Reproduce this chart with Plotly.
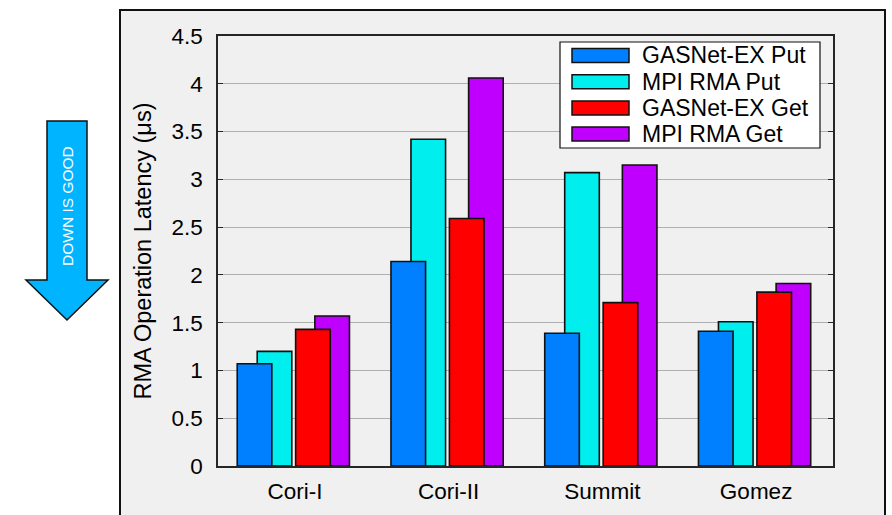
import plotly.graph_objects as go

# ---- data ----
systems = ["Cori-I", "Cori-II", "Summit", "Gomez"]
series_names = ["GASNet-EX Put", "MPI RMA Put", "GASNet-EX Get", "MPI RMA Get"]
gasnet_put = [1.07, 2.14, 1.39, 1.41]
mpi_put = [1.20, 3.42, 3.07, 1.51]
gasnet_get = [1.43, 2.59, 1.71, 1.82]
mpi_get = [1.57, 4.06, 3.15, 1.91]
y_ticks = [0, 0.5, 1, 1.5, 2, 2.5, 3, 3.5, 4, 4.5]

# ---- styling ----
colors = ["#0080ff", "#00eeee", "#ff0000", "#bf00ff"]
offsets = [-0.375, -0.245, 0.005, 0.13]
bar_w = 0.225
FONT = "Liberation Sans, Arial, Helvetica, sans-serif"
BG = "#f0f0f0"

W, H = 892, 515
L, R, T, B = 218, 833, 36, 466  # plot area in pixels


def px(x):
    return (x - L) / (R - L)


def py(y):
    return (B - y) / (B - T)


values = [gasnet_put, mpi_put, gasnet_get, mpi_get]
fig = go.Figure()
# draw order: partially hidden bars first
for i in [1, 0, 3, 2]:
    fig.add_trace(go.Bar(
        x=systems, y=values[i], name=series_names[i],
        offset=offsets[i], width=bar_w,
        marker=dict(color=colors[i], line=dict(color="#111111", width=1.6)),
        showlegend=False,
    ))

shapes = []
# outer figure box
shapes.append(dict(type="rect", xref="paper", yref="paper", layer="below",
                   x0=px(120), x1=px(885), y0=py(530), y1=py(10),
                   fillcolor=BG, line=dict(color="#111111", width=2)))
# arrow
pts = [(47, 121), (87, 121), (87, 280), (108, 280), (67, 320), (26, 280), (47, 280)]
path = "M " + " L ".join(f"{px(a):.5f},{py(b):.5f}" for a, b in pts) + " Z"
shapes.append(dict(type="path", xref="paper", yref="paper", path=path,
                   fillcolor="#00b4ff", line=dict(color="#111111", width=1.5)))
# legend box
shapes.append(dict(type="rect", xref="paper", yref="paper",
                   x0=px(560), x1=px(820), y0=py(148), y1=py(42),
                   fillcolor="white", line=dict(color="#111111", width=1.2)))
annotations = []
legend_order = [0, 1, 2, 3]
for k, i in enumerate(legend_order):
    cy = 55.5 + k * 26.2
    shapes.append(dict(type="rect", xref="paper", yref="paper",
                       x0=px(572), x1=px(629), y0=py(cy + 7), y1=py(cy - 7),
                       fillcolor=colors[i], line=dict(color="#111111", width=1.5)))
    annotations.append(dict(xref="paper", yref="paper", x=px(640), y=py(cy),
                            text=series_names[i], showarrow=False,
                            xanchor="left", yanchor="middle",
                            font=dict(family=FONT, size=23, color="black")))
annotations.append(dict(xref="paper", yref="paper", x=px(67), y=py(206),
                        text="DOWN IS GOOD", showarrow=False, textangle=-90,
                        xanchor="center", yanchor="middle",
                        font=dict(family=FONT, size=15.5, color="white")))

fig.update_layout(
    width=W, height=H,
    margin=dict(l=L, r=W - R, t=T, b=H - B, pad=0, autoexpand=False),
    paper_bgcolor="white", plot_bgcolor=BG,
    barmode="overlay",
    font=dict(family=FONT, size=22, color="black"),
    shapes=shapes, annotations=annotations,
    xaxis=dict(
        range=[-0.5, 3.5], showline=True, mirror=True, linecolor="#262626", linewidth=1.5,
        ticks="", showgrid=False, ticklabelstandoff=4, automargin=False,
        tickfont=dict(family=FONT, size=22.5, color="black"),
    ),
    yaxis=dict(
        range=[0, 4.5], tickvals=y_ticks, ticktext=[f"{v:g}" for v in y_ticks],
        showline=True, mirror="allticks", linecolor="#262626", linewidth=1.5,
        ticks="inside", ticklen=5, tickcolor="#262626",
        showgrid=True, gridcolor="#b0b0b0", gridwidth=1.3, zeroline=False,
        ticklabelstandoff=9, automargin=False,
        tickfont=dict(family=FONT, size=22.5, color="black"),
        title=dict(text="RMA Operation Latency (μs)", standoff=13,
                   font=dict(family=FONT, size=23.5, color="black")),
    ),
)

fig.write_html("out.html", config={"displayModeBar": False},
               post_script="document.body.style.margin='0';document.body.style.overflow='hidden';")
